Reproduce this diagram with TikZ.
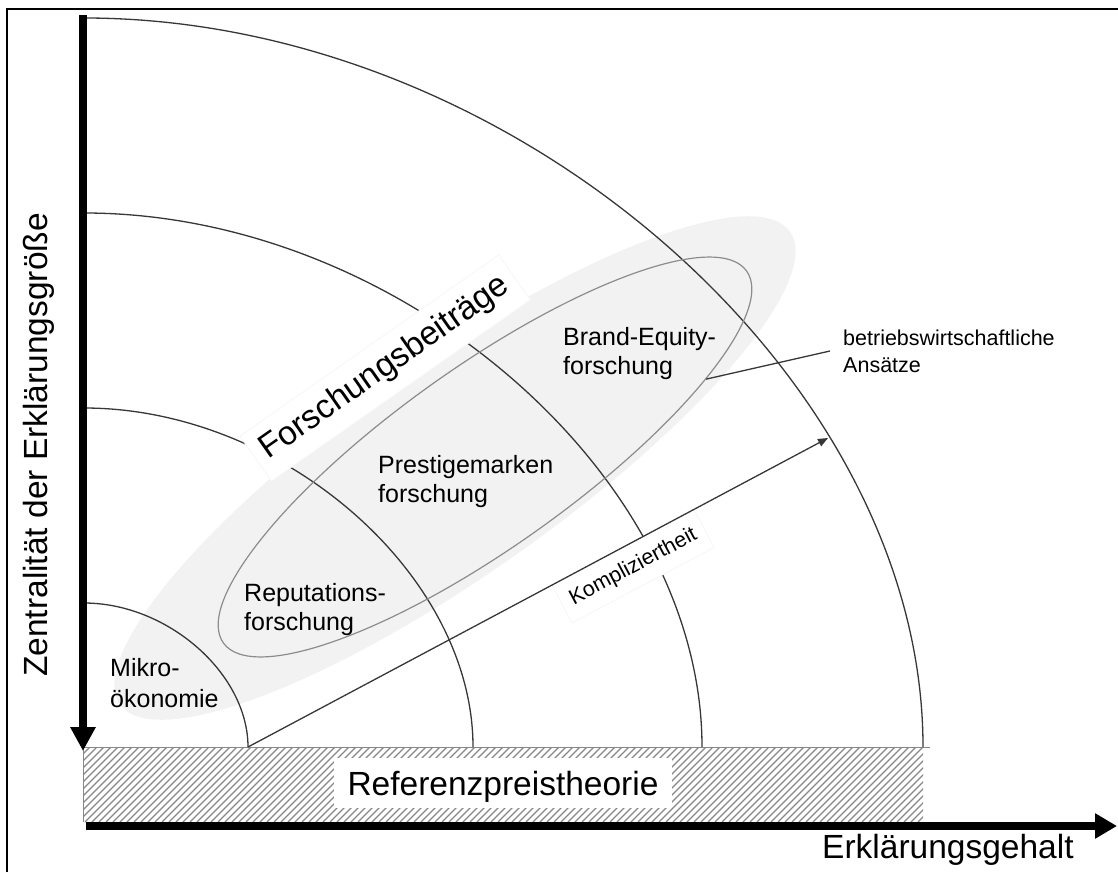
\documentclass[tikz,border=0pt]{standalone}
\usepackage{fontspec}
\setmainfont{Liberation Sans}
\usetikzlibrary{arrows.meta,shapes.geometric}
\definecolor{bandfill}{RGB}{242,242,242}
\definecolor{arcline}{RGB}{55,55,55}
\definecolor{ringline}{RGB}{140,140,140}
\definecolor{hatchline}{RGB}{135,135,135}
\definecolor{boxedge}{RGB}{246,246,246}
\begin{document}
\begin{tikzpicture}[x=1pt,y=-1pt,
  arcstroke/.style={draw=arcline,line width=1.3pt},
  area/.style={font=\fontsize{25}{29}\selectfont,align=left,anchor=north west,inner sep=0pt},
  note/.style={font=\fontsize{21.5}{27}\selectfont},
  big/.style={font=\fontsize{33.5}{40}\selectfont},
  whitebox/.style={fill=white,draw=boxedge,line width=0.8pt},
  axis/.style={line width=7.5pt}]
\useasboundingbox (0,0) rectangle (1118,872);

% light band behind the research fields
\node[ellipse,fill=bandfill,minimum width=820pt,minimum height=212pt,inner sep=0pt,rotate=35.2] (band) at (455,468) {};

% hatched base strip
\begin{scope}
  \clip (83,747) rectangle (923,822);
  \foreach \i in {0,...,131}
    \draw[hatchline,line width=1.3pt] ({8+7*\i},822) -- ({83+7*\i},747);
\end{scope}
\draw[hatchline,line width=1pt] (930,747.5) -- (83,747.5) -- (83,822);

% quarter rings around the origin
\foreach \rx/\ry in {164/144,389/339,618/534,839/729}
  \draw[arcstroke] (84,{747-\ry}) .. controls ({84+0.51*\rx},{747-\ry}) and ({84+\rx},{747-0.51*\ry}) .. ({84+\rx},747);

% business approaches ring
\node[ellipse,draw=ringline,line width=1.2pt,minimum width=642pt,minimum height=180pt,inner sep=0pt,rotate=35.4] (ring) at (485,457) {};

% field labels
\node[area,font=\fontsize{25}{31}\selectfont] (mikro) at (110,658) {Mikro-\\ökonomie};
\node[area] (repu) at (244,583) {Reputations-\\forschung};
\node[area] (prest) at (378,455) {Prestigemarken\\forschung};
\node[area] (brand) at (563,327) {Brand-Equity-\\forschung};

% callout for the ring
\node[note,align=left,anchor=west,inner xsep=13pt,inner ysep=0pt] (bwl) at (830,351) {betriebswirtschaftliche\\Ansätze};
\draw[arcstroke] (ring.-16) -- (bwl.west);

% labels on white boxes
\node[big,whitebox,text height=24pt,text depth=7pt,inner xsep=10pt,inner ysep=12pt,rotate=35,anchor=base] (fb) at (390,375) {Forschungsbeiträge};
\node[note,whitebox,text height=25pt,text depth=12pt,inner xsep=10pt,inner ysep=3pt,rotate=28,anchor=base] (komp) at (636,572) {Kompliziertheit};
\node[big,fill=white,text height=24pt,text depth=0pt,inner xsep=14pt,inner ysep=13pt,anchor=base] (ref) at (503,795) {Referenzpreistheorie};

% complexity arrow
\coordinate (kstart) at (248,747);
\coordinate (ktip) at (828,438);
\draw[arcstroke,-{Triangle[length=10pt,width=8pt]}] (kstart) -- (ktip);

% axes
\coordinate (ytop) at (83,15);
\coordinate (yend) at (83,751);
\coordinate (xstart) at (86,826);
\coordinate (xend) at (1117,826);
\draw[axis,-{Triangle[length=24pt,width=24pt]}] (ytop) -- (yend);
\draw[axis,line width=8pt,-{Triangle[length=22pt,width=24pt]}] (xstart) -- (xend);
\node[big,anchor=base west,inner sep=0pt] (xlab) at (822,858) {Erklärungsgehalt};
\node[big,anchor=base west,inner sep=0pt,rotate=90] (ylab) at (47,677) {Zentralität der Erklärungsgröße};

% outer frame
\draw[line width=2pt] (7,872) -- (7,9) -- (1118,9);
\end{tikzpicture}
\end{document}
